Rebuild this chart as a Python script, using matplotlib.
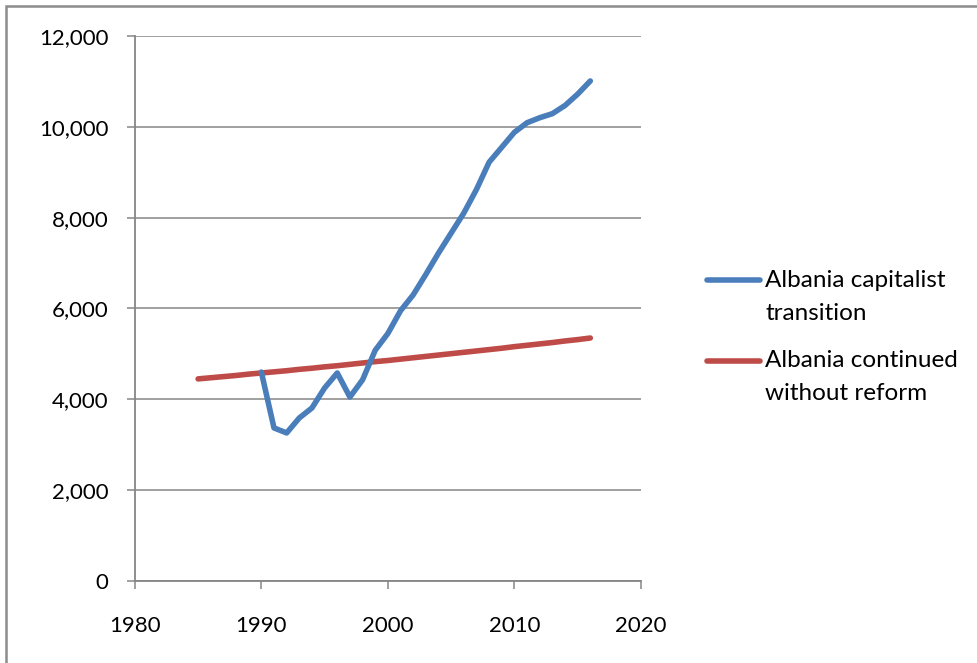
import matplotlib.pyplot as plt
from matplotlib.lines import Line2D
from matplotlib.patches import Rectangle
from matplotlib.ticker import FuncFormatter

plt.rcParams['font.family'] = ['Lato', 'DejaVu Sans']

# GDP per capita, Albania
years_transition = list(range(1990, 2017))
gdp_transition = [4600, 3370, 3260, 3590, 3810, 4250, 4580, 4050, 4430, 5080,
                  5450, 5950, 6300, 6750, 7220, 7660, 8100, 8620, 9220, 9550,
                  9880, 10090, 10200, 10290, 10470, 10720, 11010]

years_noreform = list(range(1985, 2017))
gdp_noreform = [4450, 4475, 4500, 4525, 4555, 4580, 4605, 4630, 4660, 4685,
                4715, 4740, 4770, 4800, 4830, 4855, 4885, 4915, 4945, 4975,
                5005, 5035, 5065, 5095, 5125, 5160, 5190, 5220, 5250, 5285,
                5315, 5350]

label_transition = "Albania capitalist\ntransition"
label_noreform = "Albania continued\nwithout reform"

x_ticks = [1980, 1990, 2000, 2010, 2020]
y_ticks = [0, 2000, 4000, 6000, 8000, 10000, 12000]

blue = '#4A7EBB'
red = '#BE4B48'
grey = '#868686'

fig = plt.figure(figsize=(9.77, 6.63), dpi=100)
ax = fig.add_axes([0.138, 0.1237, 0.518, 0.822])

ax.plot(years_noreform, gdp_noreform, color=red, lw=4, solid_capstyle='round', zorder=3)
ax.plot(years_transition, gdp_transition, color=blue, lw=4, solid_capstyle='round',
        solid_joinstyle='round', zorder=4)

ax.set_xlim(1980, 2020)
ax.set_ylim(0, 12000)
ax.set_xticks(x_ticks)
ax.set_yticks(y_ticks)
ax.yaxis.set_major_formatter(FuncFormatter(lambda v, p: f"{int(v):,}"))
ax.grid(axis='y', color=grey, lw=1.1)
ax.set_axisbelow(True)

for s in ['top', 'right']:
    ax.spines[s].set_visible(False)
for s in ['left', 'bottom']:
    ax.spines[s].set_color(grey)
    ax.spines[s].set_linewidth(1.3)

ax.tick_params(axis='y', length=6, width=1.1, color=grey, pad=13, labelsize=16)
ax.tick_params(axis='x', length=6, width=1.1, color=grey, pad=19, labelsize=16)

# legend drawn by hand so the key lines sit on the first text line
def key(y_px, color, text):
    y = 1 - y_px / 663
    fig.add_artist(Line2D([707 / 977, 760 / 977], [y, y], color=color, lw=4,
                          solid_capstyle='round', transform=fig.transFigure))
    first, second = text.split("\n")
    fig.text(765 / 977, y, first, fontsize=17.5, va='center', ha='left')
    fig.text(765 / 977, y - 33 / 663, second, fontsize=17.5, va='center', ha='left')

key(280, blue, label_transition)
key(361, red, label_noreform)

# chart area frame, cut off at right and bottom
fig.add_artist(Rectangle((6 / 977, -0.5), 2, 0.5 + (663 - 6) / 663, transform=fig.transFigure,
                         fill=False, edgecolor='#8C8C8C', lw=1.8))

fig.savefig('out.png', dpi=100)
